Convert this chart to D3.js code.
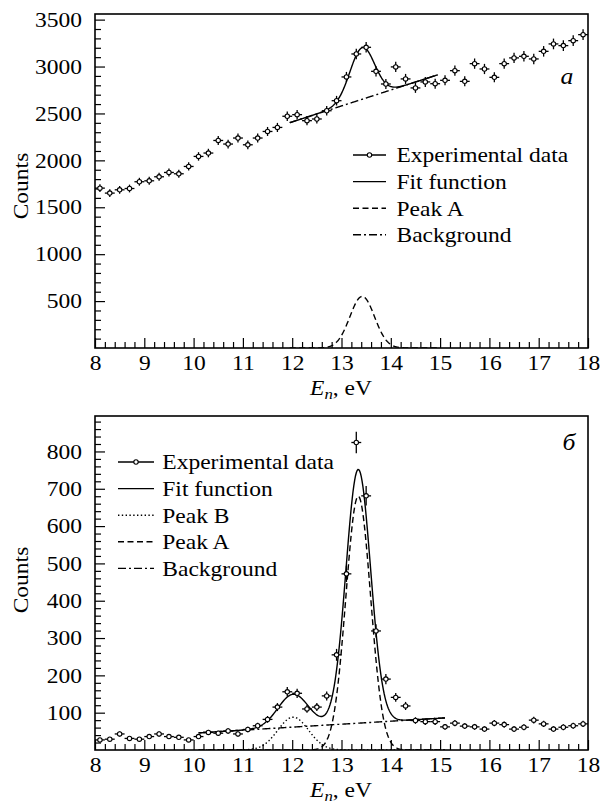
<!DOCTYPE html>
<html>
<head>
<meta charset="utf-8">
<script src="https://cdn.jsdelivr.net/npm/d3@7"></script>
<style>
  body { margin: 0; background: #fff; }
  svg { display: block; }
</style>
</head>
<body>
<svg id="chart" width="601" height="806"></svg>
<script>
// Bin centres (eV)
const energy = [8.1, 8.3, 8.5, 8.7, 8.9, 9.1, 9.3, 9.5, 9.7, 9.9,
  10.1, 10.3, 10.5, 10.7, 10.9, 11.1, 11.3, 11.5, 11.7, 11.9,
  12.1, 12.3, 12.5, 12.7, 12.9, 13.1, 13.3, 13.5, 13.7, 13.9,
  14.1, 14.3, 14.5, 14.7, 14.9, 15.1, 15.3, 15.5, 15.7, 15.9,
  16.1, 16.3, 16.5, 16.7, 16.9, 17.1, 17.3, 17.5, 17.7, 17.9];

// Spectrum (a)
const countsA = [1704, 1651, 1686, 1700, 1772, 1782, 1825, 1871, 1857, 1935,
  2042, 2078, 2212, 2174, 2238, 2166, 2238, 2308, 2351, 2470,
  2487, 2423, 2441, 2529, 2636, 2889, 3134, 3205, 2949, 2814,
  2996, 2868, 2772, 2836, 2817, 2853, 2956, 2842, 3031, 2974,
  2885, 3031, 3092, 3109, 3081, 3162, 3241, 3223, 3276, 3340];

// Spectrum (б)
const countsB = [27, 29, 43, 31, 29, 36, 43, 36, 34, 27,
  36, 47, 45, 51, 43, 55, 65, 82, 115, 156,
  152, 110, 115, 145, 255, 472, 824, 681, 319, 190,
  141, 118, 79, 76, 76, 62, 72, 64, 62, 56,
  72, 68, 56, 61, 80, 70, 56, 61, 65, 70];

const xTickLabels = [8, 9, 10, 11, 12, 13, 14, 15, 16, 17, 18];
const yTicksA = [500, 1000, 1500, 2000, 2500, 3000, 3500];
const yTicksB = [100, 200, 300, 400, 500, 600, 700, 800];

// Fit results: fit window [from, to], linear background [value at ref, slope per eV, ref],
// Gaussian peaks [amplitude, centre, sigma]
const fitRangeA = [11.95, 14.95];
const backgroundA = [2410, 170, 12.0];
const peakA_a = [550, 13.42, 0.25];

const fitRangeB = [10.1, 15.1];
const backgroundB = [46, 8, 10.1];
const peakB_b = [88, 12.02, 0.31];
const peakA_b = [680, 13.34, 0.25];

const legendA = ["Experimental data", "Fit function", "Peak A", "Background"];
const legendB = ["Experimental data", "Fit function", "Peak B", "Peak A", "Background"];

// ---------------------------------------------------------------
const FONT = "'Liberation Serif', 'Times New Roman', Times, serif";
const SX = 1.12;           // horizontal stretch of the serif face
const FS = 21;             // font size
const svg = d3.select("#chart");
const left = 95, right = 588;

const gauss = p => e => p[0] * Math.exp(-((e - p[1]) ** 2) / (2 * p[2] * p[2]));
const line = b => e => b[0] + b[1] * (e - b[2]);

const styles = {
  "Fit function": null,
  "Peak A": "6,3.5",
  "Peak B": "1.4,2.4",
  "Background": "8,3,2,3"
};

function stretchedText(parent, x, y, str, anchor, extra) {
  const g = parent.append("g").attr("transform", `translate(${x},${y}) scale(${SX},1)`);
  const t = g.append("text").attr("text-anchor", anchor || "start")
    .attr("dy", "0.35em").style("font-size", FS + "px").text(str);
  if (extra) extra(t);
  return t;
}

function xTitle(parent, cx, baseline) {
  const g = parent.append("g").attr("transform", `translate(${cx},${baseline}) scale(${SX},1)`);
  const t = g.append("text").attr("text-anchor", "middle").style("font-size", FS + "px");
  t.append("tspan").style("font-style", "italic").text("E");
  t.append("tspan").style("font-style", "italic").style("font-size", "15px").attr("dy", 4).text("n");
  t.append("tspan").attr("dy", -4).text(", eV");
}

function drawPanel(cfg) {
  const x = d3.scaleLinear().domain([8, 18]).range([left, right]);
  const y = d3.scaleLinear().domain(cfg.yDomain).range([cfg.bottom, cfg.top]);
  const g = svg.append("g");

  const clipId = "clip" + cfg.id;
  svg.append("clipPath").attr("id", clipId).append("rect")
    .attr("x", left).attr("y", cfg.top).attr("width", right - left).attr("height", cfg.bottom - cfg.top);

  // axes with inward ticks
  const minorX = d3.range(40, 91).filter(v => v % 5 !== 0).map(v => v / 5);
  g.append("g").attr("transform", `translate(0,${cfg.bottom})`)
    .call(d3.axisBottom(x).tickValues(minorX).tickSize(-6).tickFormat(""))
    .call(a => a.select(".domain").remove());
  g.append("g").attr("transform", `translate(0,${cfg.bottom})`)
    .call(d3.axisBottom(x).tickValues(xTickLabels).tickSize(-10).tickPadding(7).tickFormat(d3.format("d")))
    .call(a => a.select(".domain").remove());

  g.append("g").attr("transform", `translate(${left},0)`)
    .call(d3.axisLeft(y).tickValues(cfg.yMinor).tickSize(-6).tickFormat(""))
    .call(a => a.select(".domain").remove());
  g.append("g").attr("transform", `translate(${left},0)`)
    .call(d3.axisLeft(y).tickValues(cfg.yTicks).tickSize(-10).tickPadding(11.6).tickFormat(d3.format("d")))
    .call(a => a.select(".domain").remove());

  g.selectAll(".tick line").attr("stroke", "#000").attr("stroke-width", 1.2);
  g.selectAll(".tick text")
    .style("font-size", FS + "px")
    .attr("transform", `scale(${SX},1)`);

  // fitted curves
  const plot = g.append("g").attr("clip-path", `url(#${clipId})`);
  const n = 300;
  const es = d3.range(n + 1).map(i => cfg.fitRange[0] + (cfg.fitRange[1] - cfg.fitRange[0]) * i / n);
  const path = d3.line().x(d => x(d[0])).y(d => y(d[1]));
  cfg.curves.forEach(c => {
    plot.append("path")
      .datum(es.map(e => [e, c.f(e)]))
      .attr("d", path)
      .attr("fill", "none").attr("stroke", "#000").attr("stroke-width", 1.4)
      .attr("stroke-dasharray", styles[c.name]);
  });

  // data points with error bars
  const pts = plot.selectAll("g.pt").data(energy.map((e, i) => [e, cfg.counts[i]]))
    .join("g").attr("class", "pt");
  pts.append("line")
    .attr("x1", d => x(d[0] - 0.1)).attr("x2", d => x(d[0] + 0.1))
    .attr("y1", d => y(d[1])).attr("y2", d => y(d[1]))
    .attr("stroke", "#000").attr("stroke-width", 1.3);
  pts.append("line")
    .attr("x1", d => x(d[0])).attr("x2", d => x(d[0]))
    .attr("y1", d => y(d[1] - Math.sqrt(d[1]))).attr("y2", d => y(d[1] + Math.sqrt(d[1])))
    .attr("stroke", "#000").attr("stroke-width", 1.3);
  pts.append("circle")
    .attr("cx", d => x(d[0])).attr("cy", d => y(d[1])).attr("r", 2.2)
    .attr("fill", "#fff").attr("stroke", "#000").attr("stroke-width", 1.1);

  // frame
  g.append("rect").attr("x", left).attr("y", cfg.top)
    .attr("width", right - left).attr("height", cfg.bottom - cfg.top)
    .attr("fill", "none").attr("stroke", "#000").attr("stroke-width", 1.6);

  // legend
  const lg = g.append("g");
  cfg.legend.forEach((name, i) => {
    const ly = cfg.legendY + i * cfg.legendStep;
    lg.append("line").attr("x1", cfg.legendX[0]).attr("x2", cfg.legendX[1])
      .attr("y1", ly).attr("y2", ly).attr("stroke", "#000").attr("stroke-width", 1.4)
      .attr("stroke-dasharray", name === "Experimental data" ? null : styles[name]);
    if (name === "Experimental data") {
      lg.append("circle").attr("cx", (cfg.legendX[0] + cfg.legendX[1]) / 2).attr("cy", ly)
        .attr("r", 2.2).attr("fill", "#fff").attr("stroke", "#000").attr("stroke-width", 1.1);
    }
    stretchedText(lg, cfg.legendX[2], ly, name, "start");
  });

  // panel letter
  stretchedText(g, cfg.letterPos[0], cfg.letterPos[1], cfg.letter, "middle",
    t => t.style("font-style", "italic").style("font-size", "23px"));

  // axis titles
  const yt = g.append("g").attr("transform", `translate(28,${cfg.yTitleY}) rotate(-90) scale(${SX},1)`);
  yt.append("text").attr("text-anchor", "middle").style("font-size", FS + "px").text("Counts");
  xTitle(g, 341, cfg.bottom + 47);
}

const sumOf = fs => e => fs.reduce((s, f) => s + f(e), 0);

drawPanel({
  id: "a", top: 14, bottom: 348, yDomain: [0, 3560],
  yTicks: yTicksA, yMinor: d3.range(1, 36).filter(v => v % 5 !== 0).map(v => v * 100),
  counts: countsA, fitRange: fitRangeA,
  curves: [
    { name: "Peak A", f: gauss(peakA_a) },
    { name: "Background", f: line(backgroundA) },
    { name: "Fit function", f: sumOf([gauss(peakA_a), line(backgroundA)]) }
  ],
  legend: legendA, legendX: [353, 386, 396.5], legendY: 155, legendStep: 26.6,
  letter: "а", letterPos: [567, 76], yTitleY: 186
});

drawPanel({
  id: "b", top: 416, bottom: 750, yDomain: [0, 895],
  yTicks: yTicksB, yMinor: d3.range(1, 45).filter(v => v % 5 !== 0).map(v => v * 20),
  counts: countsB, fitRange: fitRangeB,
  curves: [
    { name: "Peak B", f: gauss(peakB_b) },
    { name: "Peak A", f: gauss(peakA_b) },
    { name: "Background", f: line(backgroundB) },
    { name: "Fit function", f: sumOf([gauss(peakB_b), gauss(peakA_b), line(backgroundB)]) }
  ],
  legend: legendB, legendX: [118, 154, 162.3], legendY: 462, legendStep: 26.6,
  letter: "б", letterPos: [569, 442], yTitleY: 580
});

// one serif face for every label
svg.selectAll("g").attr("font-family", null);
svg.selectAll("text").style("font-family", FONT).style("fill", "#000");
</script>
</body>
</html>
